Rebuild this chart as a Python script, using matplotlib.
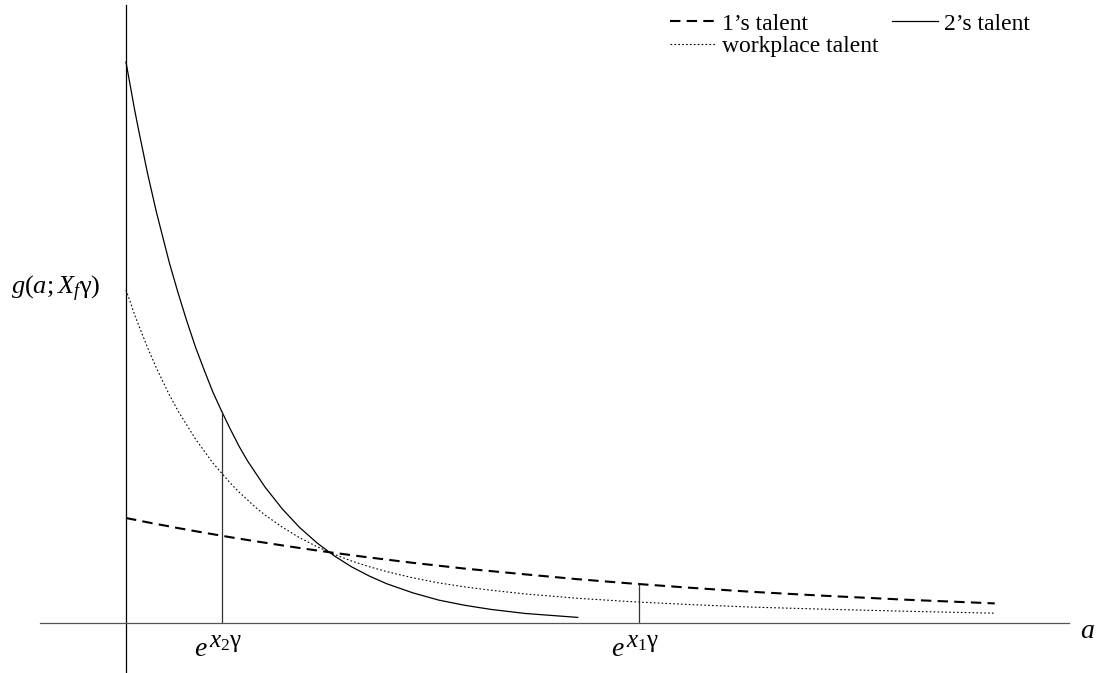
#!/usr/bin/env python
# -*- coding: utf-8 -*-

import matplotlib
matplotlib.use('Agg')
import matplotlib.pyplot as plt

# Times-like fonts for text and math
plt.rcParams['font.family'] = ['Liberation Serif', 'DejaVu Serif']
plt.rcParams['mathtext.fontset'] = 'custom'
plt.rcParams['mathtext.rm'] = 'Liberation Serif'
plt.rcParams['mathtext.it'] = 'Liberation Serif:italic'
plt.rcParams['mathtext.bf'] = 'Liberation Serif:bold'

# values (a on the x axis, g on the y axis)
a_solid = [0, 0.05, 0.1, 0.15, 0.2, 0.25, 0.3, 0.35, 0.4, 0.45, 0.5, 0.6, 0.7,
           0.8, 0.9, 1.0, 1.1, 1.2, 1.3, 1.4, 1.5, 1.6, 1.8, 2.0, 2.2, 2.4, 2.6,
           2.8, 3.0, 3.3, 3.6, 3.9, 4.2, 4.6, 5.2]
g_solid = [5.61, 5.37, 5.13, 4.91, 4.70, 4.49, 4.30, 4.11, 3.94, 3.77, 3.60, 3.30,
           3.02, 2.76, 2.53, 2.31, 2.12, 1.94, 1.77, 1.62, 1.49, 1.36, 1.14, 0.954,
           0.800, 0.670, 0.560, 0.470, 0.393, 0.302, 0.229, 0.177, 0.136, 0.095,
           0.056]

a_wide = [0, 0.05, 0.1, 0.15, 0.2, 0.25, 0.3, 0.35, 0.4, 0.45, 0.5, 0.6, 0.7,
          0.8, 0.9, 1.0, 1.1, 1.2, 1.3, 1.4, 1.5, 1.6, 1.8, 2.0, 2.2, 2.4, 2.6,
          2.8, 3.0, 3.3, 3.6, 3.9, 4.2, 4.6, 5.2, 5.8, 6.5, 7.2, 8.0, 9.0, 10.0]
g_dashed = [1.050, 1.041, 1.033, 1.024, 1.015, 1.007, 0.998, 0.990, 0.982, 0.974,
            0.966, 0.949, 0.934, 0.918, 0.903, 0.888, 0.873, 0.858, 0.844, 0.830,
            0.816, 0.803, 0.776, 0.750, 0.725, 0.701, 0.678, 0.655, 0.634, 0.602,
            0.573, 0.544, 0.519, 0.486, 0.438, 0.396, 0.352, 0.312, 0.274, 0.232,
            0.196]
g_dotted = [3.33, 3.21, 3.08, 2.97, 2.86, 2.75, 2.65, 2.55, 2.46, 2.37, 2.28, 2.12,
            1.98, 1.84, 1.72, 1.60, 1.50, 1.40, 1.31, 1.23, 1.15, 1.08, 0.958,
            0.852, 0.763, 0.686, 0.619, 0.563, 0.514, 0.452, 0.401, 0.361, 0.328,
            0.290, 0.247, 0.214, 0.184, 0.159, 0.139, 0.117, 0.098]

# the two marked points on the a axis
mark_a = [1.1, 5.9]
mark_g = [2.12, 0.39]
mark_sup = [r'$x_2\mathrm{\gamma}$', r'$x_1\mathrm{\gamma}$']

fig = plt.figure(figsize=(10.99, 6.73), dpi=100)
ax = fig.add_axes([0, 0, 1, 1])
ax.set_xlim(-1.45, 11.20)
ax.set_ylim(-0.50, 6.23)

l1, = ax.plot(a_wide, g_dashed, color='black', lw=1.5, linestyle=(0, (5, 3)),
              label="1\u2019s talent")
l2, = ax.plot(a_solid, g_solid, color='black', lw=0.9, label="2\u2019s talent")
l3, = ax.plot(a_wide, g_dotted, color='black', lw=0.8, linestyle=(0, (1.5, 2.0)),
              label='workplace talent')

ax.vlines(mark_a, 0, mark_g, color='#333333', lw=0.9)
# e with a big superscript, like the original labels
for xa, sup in zip(mark_a, mark_sup):
    ax.text(xa - 0.165, -0.33, r'$e$', fontsize=20, ha='right', va='baseline')
    ax.text(xa - 0.15, -0.245, sup, fontsize=18, ha='left', va='baseline')

# axes drawn through the origin
for side in ['top', 'right']:
    ax.spines[side].set_visible(False)
ax.spines['left'].set_position(('data', 0))
ax.spines['bottom'].set_position(('data', 0))
ax.spines['left'].set_bounds(-0.55, 6.18)
ax.spines['bottom'].set_bounds(-0.99, 10.86)
ax.spines['left'].set_linewidth(0.9)
ax.spines['bottom'].set_linewidth(0.9)
ax.spines['bottom'].set_color('#555555')
ax.set_xticks([])
ax.set_yticks([])
ax.patch.set_alpha(0)

ax.text(11.07, -0.08, r'$a$', fontsize=20, ha='center', va='center')
ax.text(-0.81, 3.34, r'$g(a{;}X_f\mathrm{\gamma})$', fontsize=19,
        ha='center', va='center')

ax.legend([l1, l3, l2], [l1.get_label(), l3.get_label(), l2.get_label()],
          ncol=2, frameon=False, fontsize=17, handlelength=1.95,
          handletextpad=0.25, columnspacing=0.6, labelspacing=0.05,
          loc='upper right', bbox_to_anchor=(1030 / 1099, 1.0 - 13 / 673),
          borderpad=0, borderaxespad=0)

plt.savefig('out.png', dpi=100)
